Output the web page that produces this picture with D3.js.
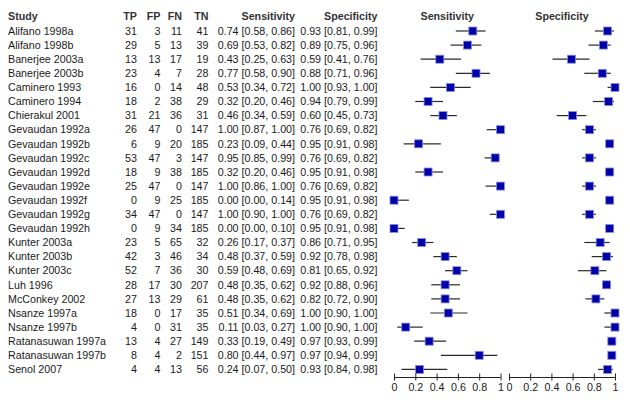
<!DOCTYPE html>
<html>
<head>
<meta charset="utf-8">
<script src="https://cdn.jsdelivr.net/npm/d3@7"></script>
<style>
  html, body { margin: 0; padding: 0; background: #fff; }
  svg { display: block; font-family: "Liberation Sans", Arial, Helvetica, sans-serif; }
</style>
</head>
<body>
<svg id="chart" width="630" height="405"></svg>
<script>
const studies = ["Alifano 1998a","Alifano 1998b","Banerjee 2003a","Banerjee 2003b","Caminero 1993","Caminero 1994","Chierakul 2001","Gevaudan 1992a","Gevaudan 1992b","Gevaudan 1992c","Gevaudan 1992d","Gevaudan 1992e","Gevaudan 1992f","Gevaudan 1992g","Gevaudan 1992h","Kunter 2003a","Kunter 2003b","Kunter 2003c","Luh 1996","McConkey 2002","Nsanze 1997a","Nsanze 1997b","Ratanasuwan 1997a","Ratanasuwan 1997b","Senol 2007"];
const TP = [31,29,13,23,16,18,31,26,6,53,18,25,0,34,0,23,42,52,28,27,18,4,13,8,4];
const FP = [3,5,13,4,0,2,21,47,9,47,9,47,9,47,9,5,3,7,17,13,0,0,4,4,4];
const FN = [11,13,17,7,14,38,36,0,20,3,38,0,25,0,34,65,46,36,30,29,17,31,27,2,13];
const TN = [41,39,19,28,48,29,31,147,185,147,185,147,185,147,185,32,34,30,207,61,35,35,149,151,56];
const sens   = [0.74,0.69,0.43,0.77,0.53,0.32,0.46,1.00,0.23,0.95,0.32,1.00,0.00,1.00,0.00,0.26,0.48,0.59,0.48,0.48,0.51,0.11,0.33,0.80,0.24];
const sensLo = [0.58,0.53,0.25,0.58,0.34,0.20,0.34,0.87,0.09,0.85,0.20,0.86,0.00,0.90,0.00,0.17,0.37,0.48,0.35,0.35,0.34,0.03,0.19,0.44,0.07];
const sensHi = [0.86,0.82,0.63,0.90,0.72,0.46,0.59,1.00,0.44,0.99,0.46,1.00,0.14,1.00,0.10,0.37,0.59,0.69,0.62,0.62,0.69,0.27,0.49,0.97,0.50];
const spec   = [0.93,0.89,0.59,0.88,1.00,0.94,0.60,0.76,0.95,0.76,0.95,0.76,0.95,0.76,0.95,0.86,0.92,0.81,0.92,0.82,1.00,1.00,0.97,0.97,0.93];
const specLo = [0.81,0.75,0.41,0.71,0.93,0.79,0.45,0.69,0.91,0.69,0.91,0.69,0.91,0.69,0.91,0.71,0.78,0.65,0.88,0.72,0.90,0.90,0.93,0.94,0.84];
const specHi = [0.99,0.96,0.76,0.96,1.00,0.99,0.73,0.82,0.98,0.82,0.98,0.82,0.98,0.82,0.98,0.95,0.98,0.92,0.96,0.90,1.00,1.00,0.99,0.99,0.98];
const tickValues = [0, 0.2, 0.4, 0.6, 0.8, 1];
const tickLabels = ["0","0.2","0.4","0.6","0.8","1"];

const svg = d3.select("#chart");
const fs = 10.7;
const textColor = "#1a1a1a";

const y = d3.scalePoint().domain(studies).range([31, 369.4]);
const headerY = 16;
const xSens = d3.scaleLinear().domain([0, 1]).range([394, 500.5]);
const xSpec = d3.scaleLinear().domain([0, 1]).range([509, 615]);

const f2 = d3.format(".2f");
const ci = (v, lo, hi) => `${f2(v)} [${f2(lo)}, ${f2(hi)}]`;

const rows = studies.map((s, i) => ({
  study: s, tp: TP[i], fp: FP[i], fn: FN[i], tn: TN[i],
  sens: sens[i], sensLo: sensLo[i], sensHi: sensHi[i],
  spec: spec[i], specLo: specLo[i], specHi: specHi[i]
}));

// Table columns
const columns = [
  { title: "Study", x: 8, anchor: "start", val: d => d.study },
  { title: "TP", x: 137, anchor: "end", val: d => d.tp },
  { title: "FP", x: 160.5, anchor: "end", val: d => d.fp },
  { title: "FN", x: 182, anchor: "end", val: d => d.fn },
  { title: "TN", x: 208.5, anchor: "end", val: d => d.tn },
  { title: "Sensitivity", x: 295, anchor: "end", val: d => ci(d.sens, d.sensLo, d.sensHi) },
  { title: "Specificity", x: 377.5, anchor: "end", val: d => ci(d.spec, d.specLo, d.specHi) }
];

const table = svg.append("g").attr("font-size", fs).attr("fill", textColor);
columns.forEach(c => {
  table.append("text")
    .attr("x", c.x).attr("y", headerY).attr("dy", "0.35em")
    .attr("text-anchor", c.anchor).attr("font-weight", "bold").attr("fill", "#333")
    .text(c.title);
  table.selectAll(null).data(rows).enter().append("text")
    .attr("x", c.x).attr("y", d => y(d.study)).attr("dy", "0.35em")
    .attr("text-anchor", c.anchor)
    .text(c.val);
});

// Forest panels
function panel(x, key, title) {
  const g = svg.append("g");
  g.append("text")
    .attr("x", (x.range()[0] + x.range()[1]) / 2).attr("y", headerY).attr("dy", "0.35em")
    .attr("text-anchor", "middle").attr("font-weight", "bold").attr("font-size", fs).attr("fill", "#333")
    .text(title);
  g.selectAll("line.ci").data(rows).enter().append("line")
    .attr("class", "ci")
    .attr("x1", d => x(d[key + "Lo"])).attr("x2", d => x(d[key + "Hi"]))
    .attr("y1", d => y(d.study)).attr("y2", d => y(d.study))
    .attr("stroke", "#2a2a2a").attr("stroke-width", 1.2);
  const s = 8;
  g.selectAll("rect.pt").data(rows).enter().append("rect")
    .attr("class", "pt")
    .attr("x", d => x(d[key]) - s / 2).attr("y", d => y(d.study) - s / 2)
    .attr("width", s).attr("height", s)
    .attr("fill", "#0000a8").attr("stroke", "#8c8ce0").attr("stroke-width", 0.8);

  const axisY = 377.5;
  const axis = d3.axisBottom(x).tickValues(tickValues)
    .tickFormat((d, i) => tickLabels[i]).tickSize(3).tickPadding(3).tickSizeOuter(0);
  const ag = g.append("g").attr("transform", `translate(0,${axisY})`).call(axis);
  ag.select(".domain").attr("stroke", "#222").attr("d", `M${x.range()[0]},0H${x.range()[1]}`);
  ag.selectAll(".tick line").attr("stroke", "#222").attr("y1", -4).attr("y2", 3);
  ag.selectAll(".tick text").attr("font-size", fs).attr("fill", textColor)
    .attr("font-family", "Liberation Sans, Arial, sans-serif");
}
panel(xSens, "sens", "Sensitivity");
panel(xSpec, "spec", "Specificity");
</script>
</body>
</html>
